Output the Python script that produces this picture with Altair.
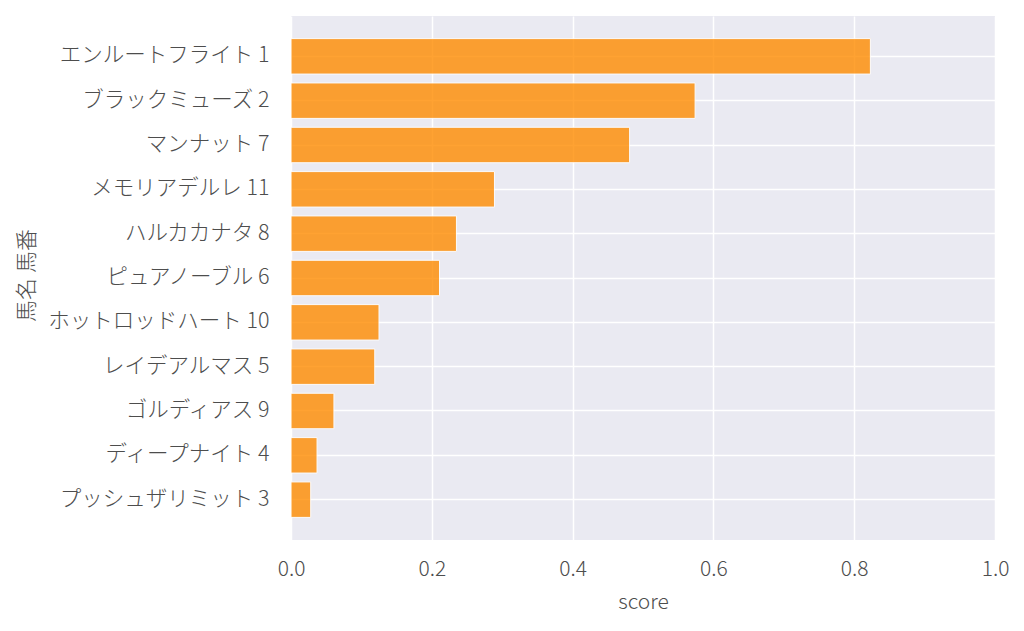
import altair as alt
import pandas as pd

names = ["エンルートフライト", "ブラックミューズ", "マンナット", "メモリアデルレ", "ハルカカナタ",
         "ピュアノーブル", "ホットロッドハート", "レイデアルマス", "ゴルディアス", "ディープナイト",
         "プッシュザリミット"]
numbers = [1, 2, 7, 11, 8, 6, 10, 5, 9, 4, 3]
scores = [0.823, 0.574, 0.481, 0.289, 0.235, 0.211, 0.125, 0.119, 0.061, 0.037, 0.028]

labels = [f"{n} {k}" for n, k in zip(names, numbers)]
df = pd.DataFrame({"label": labels, "score": scores})

FONT = "Noto Sans CJK JP"

chart = alt.Chart(df).mark_bar(
    color="#FF8C00", opacity=0.8, stroke="white", strokeWidth=1
).encode(
    x=alt.X("score:Q", scale=alt.Scale(domain=[0, 1], nice=False),
            axis=alt.Axis(values=[0, 0.2, 0.4, 0.6, 0.8, 1.0], format=".1f", title="score",
                          ticks=False, domain=False, labelPadding=18, titlePadding=12,
                          labelAlign="center", labelFlush=False,
                          gridColor="white", gridWidth=1.5, gridOpacity=1)),
    y=alt.Y("label:N", sort=labels,
            scale=alt.Scale(paddingInner=0.2, paddingOuter=0.51),
            axis=alt.Axis(title="馬名 馬番", ticks=False, domain=False, labelPadding=22,
                          labelFontSize=21.5,
                          titleX=-265, titleY=259, titleAngle=-90, titleAlign="center",
                          titleBaseline="middle", titleFontSize=22,
                          bandPosition=0.5, grid=True,
                          gridColor="white", gridWidth=1.5, gridOpacity=1, labelLimit=400)),
).properties(
    width=704, height=524,
    autosize=alt.AutoSizeParams(type="none"),
    padding={"left": 283, "top": 8, "right": 20, "bottom": 80},
).configure(
    background="white"
).configure_view(
    fill="#EAEAF2", stroke=None
).configure_axis(
    labelFont=FONT, titleFont=FONT, labelFontSize=21, titleFontSize=21,
    labelColor="#4d4d4d", titleColor="#4d4d4d", labelFontWeight=300, titleFontWeight=300,
    grid=True,
)

chart.save("out.html", embed_options={"renderer": "svg", "actions": False})
